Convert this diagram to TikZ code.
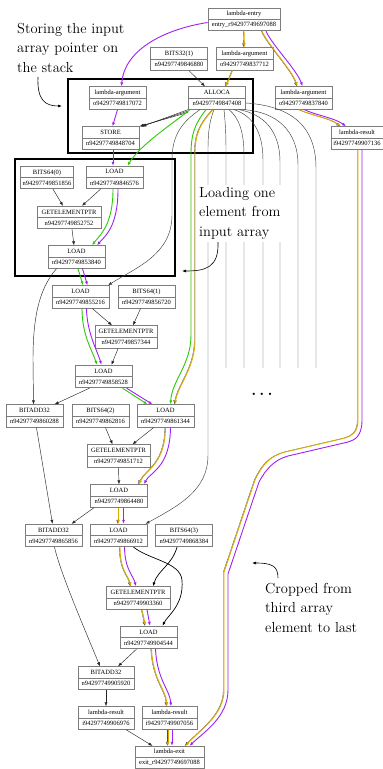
\documentclass[tikz,border=0pt]{standalone}
\usepackage{fontspec}
\newfontfamily\nodefont{Liberation Serif}
\usetikzlibrary{arrows.meta,calc}

\definecolor{stpurple}{RGB}{160,32,240}
\definecolor{stgreen}{RGB}{40,205,0}
\definecolor{styellow}{RGB}{215,170,0}
\definecolor{boxgray}{RGB}{125,125,125}

\tikzset{
  rec/.style={draw=boxgray, line width=0.8pt, fill=white, minimum width=57pt,
    minimum height=22.5pt, inner sep=0pt, align=center,
    font={\nodefont\fontsize{6.5}{11.25}\selectfont},
    path picture={\draw[boxgray, line width=0.8pt]
      (path picture bounding box.west) -- (path picture bounding box.east);}},
  tip/.style={-{Latex[length=4pt,width=3pt]}},
  dat/.style={draw=black!85, line width=0.45pt, tip},
  heavy/.style={draw=black, line width=0.7pt, tip},
  fan/.style={draw=black!75, line width=0.45pt},
  pur/.style={draw=stpurple, line width=0.9pt, tip},
  grn/.style={draw=stgreen, line width=0.9pt, tip},
  yel/.style={draw=styellow, line width=0.9pt, tip,
    preaction={draw=black!70, line width=0.35pt, transform canvas={xshift=-0.7pt}}},
  frame/.style={draw=black, line width=1.2pt},
  note/.style={font={\fontsize{14.5}{19.5}\selectfont}, align=left, inner sep=0pt, anchor=north west},
  callout/.style={draw=black, line width=0.6pt, tip},
}

\begin{document}
\begin{tikzpicture}[x=1pt,y=-1pt]
\useasboundingbox (0,0) rectangle (383,769);

% frames around the two highlighted groups
\draw[frame] (68,79) rectangle (253,153);
\draw[frame] (15,159) rectangle (175,276);

% ---- nodes ----
\node[rec, minimum width=72pt] (entry) at (244,19.5) {lambda-entry\\entry\_r94297749697088};
\node[rec] (bits32) at (179,59) {BITS32(1)\\n94297749846880};
\node[rec] (arg712) at (244.5,59) {lambda-argument\\o94297749837712};
\node[rec] (arg072) at (117.5,98) {lambda-argument\\o94297749817072};
\node[rec] (alloca) at (217,98) {ALLOCA\\n94297749847408};
\node[rec] (arg840) at (303.5,98) {lambda-argument\\o94297749837840};
\node[rec] (store) at (110.5,138) {STORE\\n94297749848704};
\node[rec, minimum width=52pt] (res136) at (357,138) {lambda-result\\i94297749907136};

\node[rec, minimum width=53pt] (bits0) at (47,177.5) {BITS64(0)\\n94297749851856};
\node[rec] (load576) at (114.5,177.5) {LOAD\\n94297749846576};
\node[rec, minimum width=64pt] (gep752) at (69,217.5) {GETELEMENTPTR\\n94297749852752};
\node[rec] (load840) at (76.5,257) {LOAD\\n94297749853840};

\node[rec] (load216) at (80.5,297) {LOAD\\n94297749855216};
\node[rec] (bits720) at (146.5,297) {BITS64(1)\\n94297749856720};
\node[rec, minimum width=62pt] (gep344) at (126,337) {GETELEMENTPTR\\n94297749857344};
\node[rec] (load528) at (103.5,376.5) {LOAD\\n94297749858528};

\node[rec] (add288) at (34.5,416) {BITADD32\\n94297749860288};
\node[rec] (bits816) at (100.5,416) {BITS64(2)\\n94297749862816};
\node[rec] (load344) at (165.5,416) {LOAD\\n94297749861344};
\node[rec, minimum width=63pt] (gep712) at (118.5,456) {GETELEMENTPTR\\n94297749851712};
\node[rec] (load480) at (119,496) {LOAD\\n94297749864480};

\node[rec] (add856) at (53.5,535.5) {BITADD32\\n94297749865856};
\node[rec] (load912) at (118.5,535.5) {LOAD\\n94297749866912};
\node[rec] (bits384) at (184,535.5) {BITS64(3)\\n94297749868384};
\node[rec, minimum width=64pt] (gep360) at (138,598) {GETELEMENTPTR\\n94297749903360};
\node[rec] (load544) at (148.5,637.5) {LOAD\\n94297749904544};

\node[rec, minimum width=56pt] (add920) at (106,678) {BITADD32\\n94297749905920};
\node[rec, minimum width=56pt] (res976) at (106,718) {lambda-result\\i94297749906976};
\node[rec, minimum width=55pt] (res056) at (169.5,718) {lambda-result\\i94297749907056};
\node[rec, minimum width=69pt] (exit) at (169.5,757.5) {lambda-exit\\exit\_r94297749697088};

% loose ends of the cut-off address edges
\coordinate (f1) at (226,368);
\coordinate (f2) at (244,368);
\coordinate (f3) at (263,368);
\coordinate (f4) at (280,368);
\coordinate (f5) at (298,368);
\coordinate (f6) at (316,368);

% ---- ALLOCA address fan ----
\draw[fan] ([xshift=7]alloca.south) .. controls (225,120) and (226,130) .. (226,150) -- (f1);
\draw[fan] ([xshift=12]alloca.south) .. controls (238,117) and (244,130) .. (244,155) -- (f2);
\draw[fan] ([xshift=17]alloca.south) .. controls (251,115) and (263,130) .. (263,160) -- (f3);
\draw[fan] ([xshift=22]alloca.south) .. controls (263,114) and (280,130) .. (280,162) -- (f4);
\draw[fan] ([xshift=27]alloca.south) .. controls (276,112) and (298,130) .. (298,165) -- (f5);
\draw[fan] ([yshift=-5]alloca.east) .. controls (290,106) and (316,125) .. (316,168) -- (f6);
\draw[fan, tip] ([xshift=-17]alloca.south) .. controls (182,122) and (172,135) .. (172,160)
  -- (172,215) .. controls (172,255) and (135,268) .. ([xshift=27.5]load216.north);
\draw[fan, tip] ([xshift=-3]alloca.south) .. controls (210,120) and (208,130) .. (208,150)
  -- (208,455) .. controls (208,490) and (180,505) .. ([xshift=27]load912.north);

% ---- ALLOCA to STORE ----
\draw[dat] (alloca.south west) -- ([xshift=3]store.north east);
\draw[dat] ($(alloca.south west)+(0,1.4)$) -- ([xshift=1.5]store.north east);
\draw[dat] ($(alloca.south west)+(0,2.8)$) -- (store.north east);

% ---- value edges ----
\draw[dat] ([xshift=10]bits32.south) -- ([xshift=-12]alloca.north);
\draw[dat] ([xshift=-14]load576.south) -- ([xshift=13]gep752.north);
\draw[dat] ([xshift=6]bits0.south) -- ([xshift=-6]gep752.north);
\draw[dat] ([xshift=3]gep752.south) -- ([xshift=-2.5]load840.north);
\draw[dat] ([xshift=-20]load840.south) .. controls (38,290) and (33,320) .. (33,360) -- ([xshift=-1]add288.north);
\draw[dat] ([xshift=12]load216.south) -- ([xshift=-14]gep344.north);
\draw[dat] ([xshift=-6]bits720.south) -- ([xshift=7]gep344.north);
\draw[dat] ([xshift=-8]gep344.south) -- ([xshift=8]load528.north);
\draw[dat] ([xshift=-14]load528.south) -- ([xshift=20]add288.north);
\draw[dat] ([xshift=5]bits816.south) -- ([xshift=-6]gep712.north);
\draw[dat] ([xshift=-12]load344.south) -- ([xshift=14]gep712.north);
\draw[dat] (gep712.south) -- (load480.north);
\draw[dat] ([xshift=2]add288.south) -- ([xshift=-1]add856.north);
\draw[dat] ([xshift=-25]load480.south) -- ([xshift=18]add856.north);
\draw[dat] ([xshift=1]add856.south) .. controls (60,572) and (85,630) .. ([xshift=-6]add920.north);
\draw[heavy] ([xshift=15]load912.south) .. controls (150,560) and (180,562) .. (182,580)
  .. controls (184,605) and (168,615) .. ([xshift=14]load544.north);
\draw[heavy] ([xshift=-7]bits384.south) .. controls (172,565) and (158,570) .. ([xshift=15]gep360.north);
\draw[dat] ([xshift=-12]load544.south) -- ([xshift=12]add920.north);
\draw[dat] (add920.south) -- (res976.north);
\draw[dat] ([xshift=20]res976.south) -- ([xshift=-17]exit.north);

% ---- state edges: purple ----
\draw[pur] ([yshift=-3]entry.west) .. controls (160,30) and (124,52) .. ([xshift=4]arg072.north);
\draw[pur] (arg072.south) -- ([xshift=2]store.north);
\draw[pur] ([xshift=2.5]store.south) -- ([xshift=-1.5]load576.north);
\draw[pur] ([xshift=22]entry.south) .. controls (272,45) and (297,70) .. ([xshift=-1]arg840.north);
\draw[pur] ([xshift=1]arg840.south) .. controls (315,115) and (335,118) .. ([xshift=-11]res136.north);
\draw[pur] ([xshift=3.5]load576.south) .. controls (118,228) and (104,237) .. ([xshift=20.5]load840.north);
\draw[pur] ([xshift=6]load840.south) -- ([xshift=7]load216.north);
\draw[pur] ([xshift=6]load216.south) .. controls (87,333) and (97,350) .. ([xshift=-2]load528.north);
\draw[pur] ([xshift=23]load528.south) -- ([xshift=-13]load344.north);
\draw[pur] ([xshift=5]load344.south) .. controls (170,468) and (150,472) .. ([xshift=25]load480.north);
\draw[pur] ([xshift=4.5]load480.south) -- ([xshift=5]load912.north);
\draw[pur] ([xshift=6]load912.south) .. controls (125,570) and (133,575) .. ([xshift=-2]gep360.north);
\draw[pur] ([xshift=9]gep360.south) -- ([xshift=1.5]load544.north);
\draw[pur] ([xshift=7]load544.south) .. controls (157,680) and (170,690) .. ([xshift=1.5]res056.north);
\draw[pur] ([xshift=2.5]res056.south) -- ([xshift=2.5]exit.north);
\draw[pur] ([xshift=5]res136.south) -- (362,420) .. controls (362,436) and (355,440) .. (348,442)
  -- (288,456) .. controls (274,460) and (266,469) .. (259,482) -- (228,574) -- (228,690)
  .. controls (228,717) and (204,732) .. ([xshift=20]exit.north);

% ---- state edges: green ----
\draw[grn] ([xshift=2]alloca.south west) .. controls (172,124) and (140,145) .. ([xshift=13]load576.north);
\draw[grn] ([xshift=-11]alloca.south) .. controls (194,125) and (191,135) .. (191,155)
  -- (191,335) .. controls (191,365) and (172,380) .. ([xshift=5]load344.north);
\draw[grn] ([xshift=-1.5]load576.south) .. controls (113,225) and (100,235) .. ([xshift=15.5]load840.north);
\draw[grn] ([xshift=1.5]load840.south) -- ([xshift=2.5]load216.north);
\draw[grn] ([xshift=1.5]load216.south) .. controls (82,335) and (92,350) .. ([xshift=-6.5]load528.north);
\draw[grn] ([xshift=19]load528.south) -- ([xshift=-18]load344.north);

% ---- state edges: yellow ----
\draw[yel] (entry.south) -- (arg712.north);
\draw[yel] ([xshift=-12]arg712.south) -- ([xshift=9]alloca.north);
\draw[yel] ([xshift=18]entry.south) .. controls (268,45) and (292,70) .. ([xshift=-6]arg840.north);
\draw[yel] ([xshift=-4]arg840.south) .. controls (310,115) and (330,118) .. ([xshift=-16]res136.north);
\draw[yel] ([xshift=-4]alloca.south) .. controls (199,125) and (195,135) .. (195,155)
  -- (195,340) .. controls (195,368) and (178,385) .. ([xshift=9.5]load344.north);
\draw[yel] (load344.south) .. controls (165,465) and (145,470) .. ([xshift=20]load480.north);
\draw[yel] ([xshift=-0.5]load480.south) -- (load912.north);
\draw[yel] ([xshift=1.5]load912.south) .. controls (120,570) and (128,575) .. ([xshift=-7]gep360.north);
\draw[yel] ([xshift=4]gep360.south) -- ([xshift=-3]load544.north);
\draw[yel] ([xshift=3]load544.south) .. controls (153,680) and (166,690) .. ([xshift=-2.5]res056.north);
\draw[yel] ([xshift=-1.5]res056.south) -- ([xshift=-1.5]exit.north);
\draw[yel] ([xshift=1]res136.south) -- (358,420) .. controls (358,432) and (352,436) .. (345,438)
  -- (285,452) .. controls (270,456) and (262,465) .. (255,480) -- (224,572) -- (224,690)
  .. controls (224,715) and (200,730) .. ([xshift=16]exit.north);

% ---- annotations ----
\node[note] (nstore) at (17,23) {Storing the input\\array pointer on\\the stack};
\node[note, fill=white, inner sep=2.5pt] (nload) at (196.5,184.5) {Loading one\\element from\\input array};
\node[note] (ncrop) at (265,583) {Cropped from\\third array\\element to last};
\node[anchor=base, inner sep=0pt, font={\fontsize{16}{20}\bfseries}] (dots) at (262,395) {.\kern3.2pt.\kern3.2pt.};

\coordinate (st1) at (38,77);
\coordinate (st2) at (62,106);
\draw[callout] (st1) .. controls (37,100) and (45,106) .. (st2);
\coordinate (lo1) at (218,242);
\coordinate (lo2) at (182,271);
\draw[callout] (lo1) .. controls (219,268) and (205,271) .. (lo2);
\coordinate (cr1) at (278,578);
\coordinate (cr2) at (252,563);
\draw[callout] (cr1) .. controls (278,566) and (272,563) .. (cr2);
\end{tikzpicture}
\end{document}
